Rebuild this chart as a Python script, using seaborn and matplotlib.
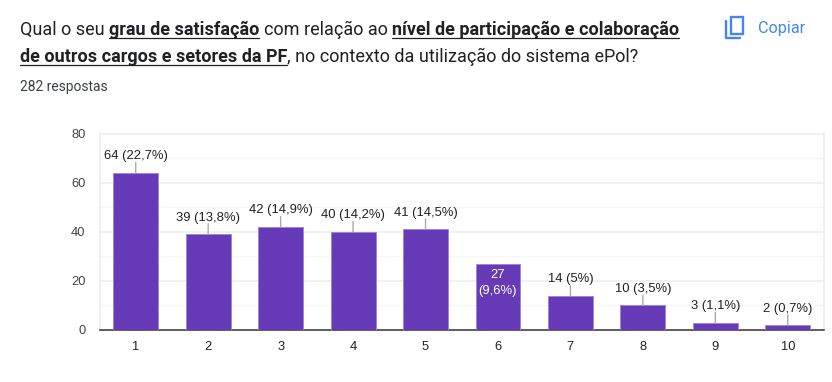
import pandas as pd
import seaborn as sns
import matplotlib.pyplot as plt
from matplotlib.lines import Line2D
from matplotlib.patches import Rectangle
from matplotlib.ticker import MultipleLocator

categorias = ["1", "2", "3", "4", "5", "6", "7", "8", "9", "10"]
respostas = [64, 39, 42, 40, 41, 27, 14, 10, 3, 2]
rotulos = ["64 (22,7%)", "39 (13,8%)", "42 (14,9%)", "40 (14,2%)", "41 (14,5%)",
           "27\n(9,6%)", "14 (5%)", "10 (3,5%)", "3 (1,1%)", "2 (0,7%)"]
linha1 = [("Qual o seu", False), ("grau de satisfação", True), ("com relação ao", False),
          ("nível de participação e colaboração", True)]
linha2 = [("de outros cargos e setores da PF", True), (", no contexto da utilização do sistema ePol?", False)]

W, H = 832, 382
ROXO = "#673ab7"
AZUL = "#4285f4"

sns.set_style("white")
plt.rcParams["font.family"] = ["Liberation Sans", "DejaVu Sans"]

df = pd.DataFrame({"nota": categorias, "qtd": respostas})

fig = plt.figure(figsize=(W / 100, H / 100), dpi=100, facecolor="white")
ax = fig.add_axes([99.5 / W, 1 - 330 / H, (824 - 99.5) / W, (330 - 133.5) / H])
sns.barplot(data=df, x="nota", y="qtd", color=ROXO, saturation=1, width=0.62,
            edgecolor="#9e85d6", linewidth=0.7, ax=ax, zorder=3)
ax.set_xlim(-0.5, 9.5)
ax.set_ylim(0, 80)
ax.set_xlabel("")
ax.set_ylabel("")
ax.yaxis.set_major_locator(MultipleLocator(20))
ax.yaxis.set_minor_locator(MultipleLocator(10))
ax.grid(which="major", axis="y", color="#f0f0f0", lw=1.3, zorder=0)
ax.grid(which="minor", axis="y", color="#f6f6f6", lw=1, zorder=0)
ax.set_axisbelow(True)
ax.tick_params(axis="both", which="both", length=0)
ax.tick_params(axis="x", labelsize=9.3, labelcolor="#222222", pad=8)
ax.tick_params(axis="y", labelsize=9.3, labelcolor="#444444", pad=10)
for lado in ["top", "left", "right"]:
    ax.spines[lado].set_color("#eeeeee")
    ax.spines[lado].set_linewidth(1.2)
ax.spines["bottom"].set_color("#333333")
ax.spines["bottom"].set_linewidth(1.1)

# rotulos com a linhazinha cinza, a barra 6 tem o texto dentro
for i, (v, txt) in enumerate(zip(respostas, rotulos)):
    if "\n" in txt:
        ax.annotate(txt, xy=(i, v), xytext=(0, -3.6), textcoords="offset points",
                    ha="center", va="top", color="white", fontsize=9.4,
                    linespacing=1.45, zorder=5)
        continue
    ax.annotate("", xy=(i, v), xytext=(0, 7.4), textcoords="offset points",
                arrowprops=dict(arrowstyle="-", color="#aaaaaa", lw=1, shrinkA=0, shrinkB=0))
    ax.annotate(txt, xy=(i, v), xytext=(0, 7.6), textcoords="offset points",
                ha="center", va="bottom", fontsize=9.4, color="#222222", zorder=5)

# titulo em pedacos, normal e negrito sublinhado
def escreve(pedacos, x, y):
    rend = fig.canvas.get_renderer()
    espaco = 4.4
    for txt, negrito in pedacos:
        if txt.startswith(","):
            x -= espaco
        t = fig.text(x / W, 1 - y / H, txt, fontsize=13, family="Roboto", va="baseline",
                     color="#202124", weight="bold" if negrito else "normal")
        w = t.get_window_extent(rend).width
        if negrito:
            fig.add_artist(Line2D([x / W, (x + w) / W], [1 - (y + 2.5) / H] * 2,
                                  color="#202124", lw=0.9))
        x += w + espaco

escreve(linha1, 20, 35)
escreve(linha2, 20, 62)
fig.text(20 / W, 1 - 91 / H, "282 respostas", fontsize=9.9, family="Roboto",
         color="#3c4043", va="baseline")
fig.text(758 / W, 1 - 33 / H, "Copiar", fontsize=11.6, family="Roboto", color=AZUL, va="baseline")

# icone de copiar
fig.add_artist(Rectangle((730.5 / W, 1 - 33.5 / H), 12.5 / W, 16.5 / H, fill=False,
                         edgecolor=AZUL, lw=1.7, transform=fig.transFigure))
fig.add_artist(Line2D([726 / W, 726 / W, 740 / W], [1 - 21 / H, 1 - 37.5 / H, 1 - 37.5 / H],
                      color=AZUL, lw=1.7))

fig.savefig("out.png", dpi=100)
